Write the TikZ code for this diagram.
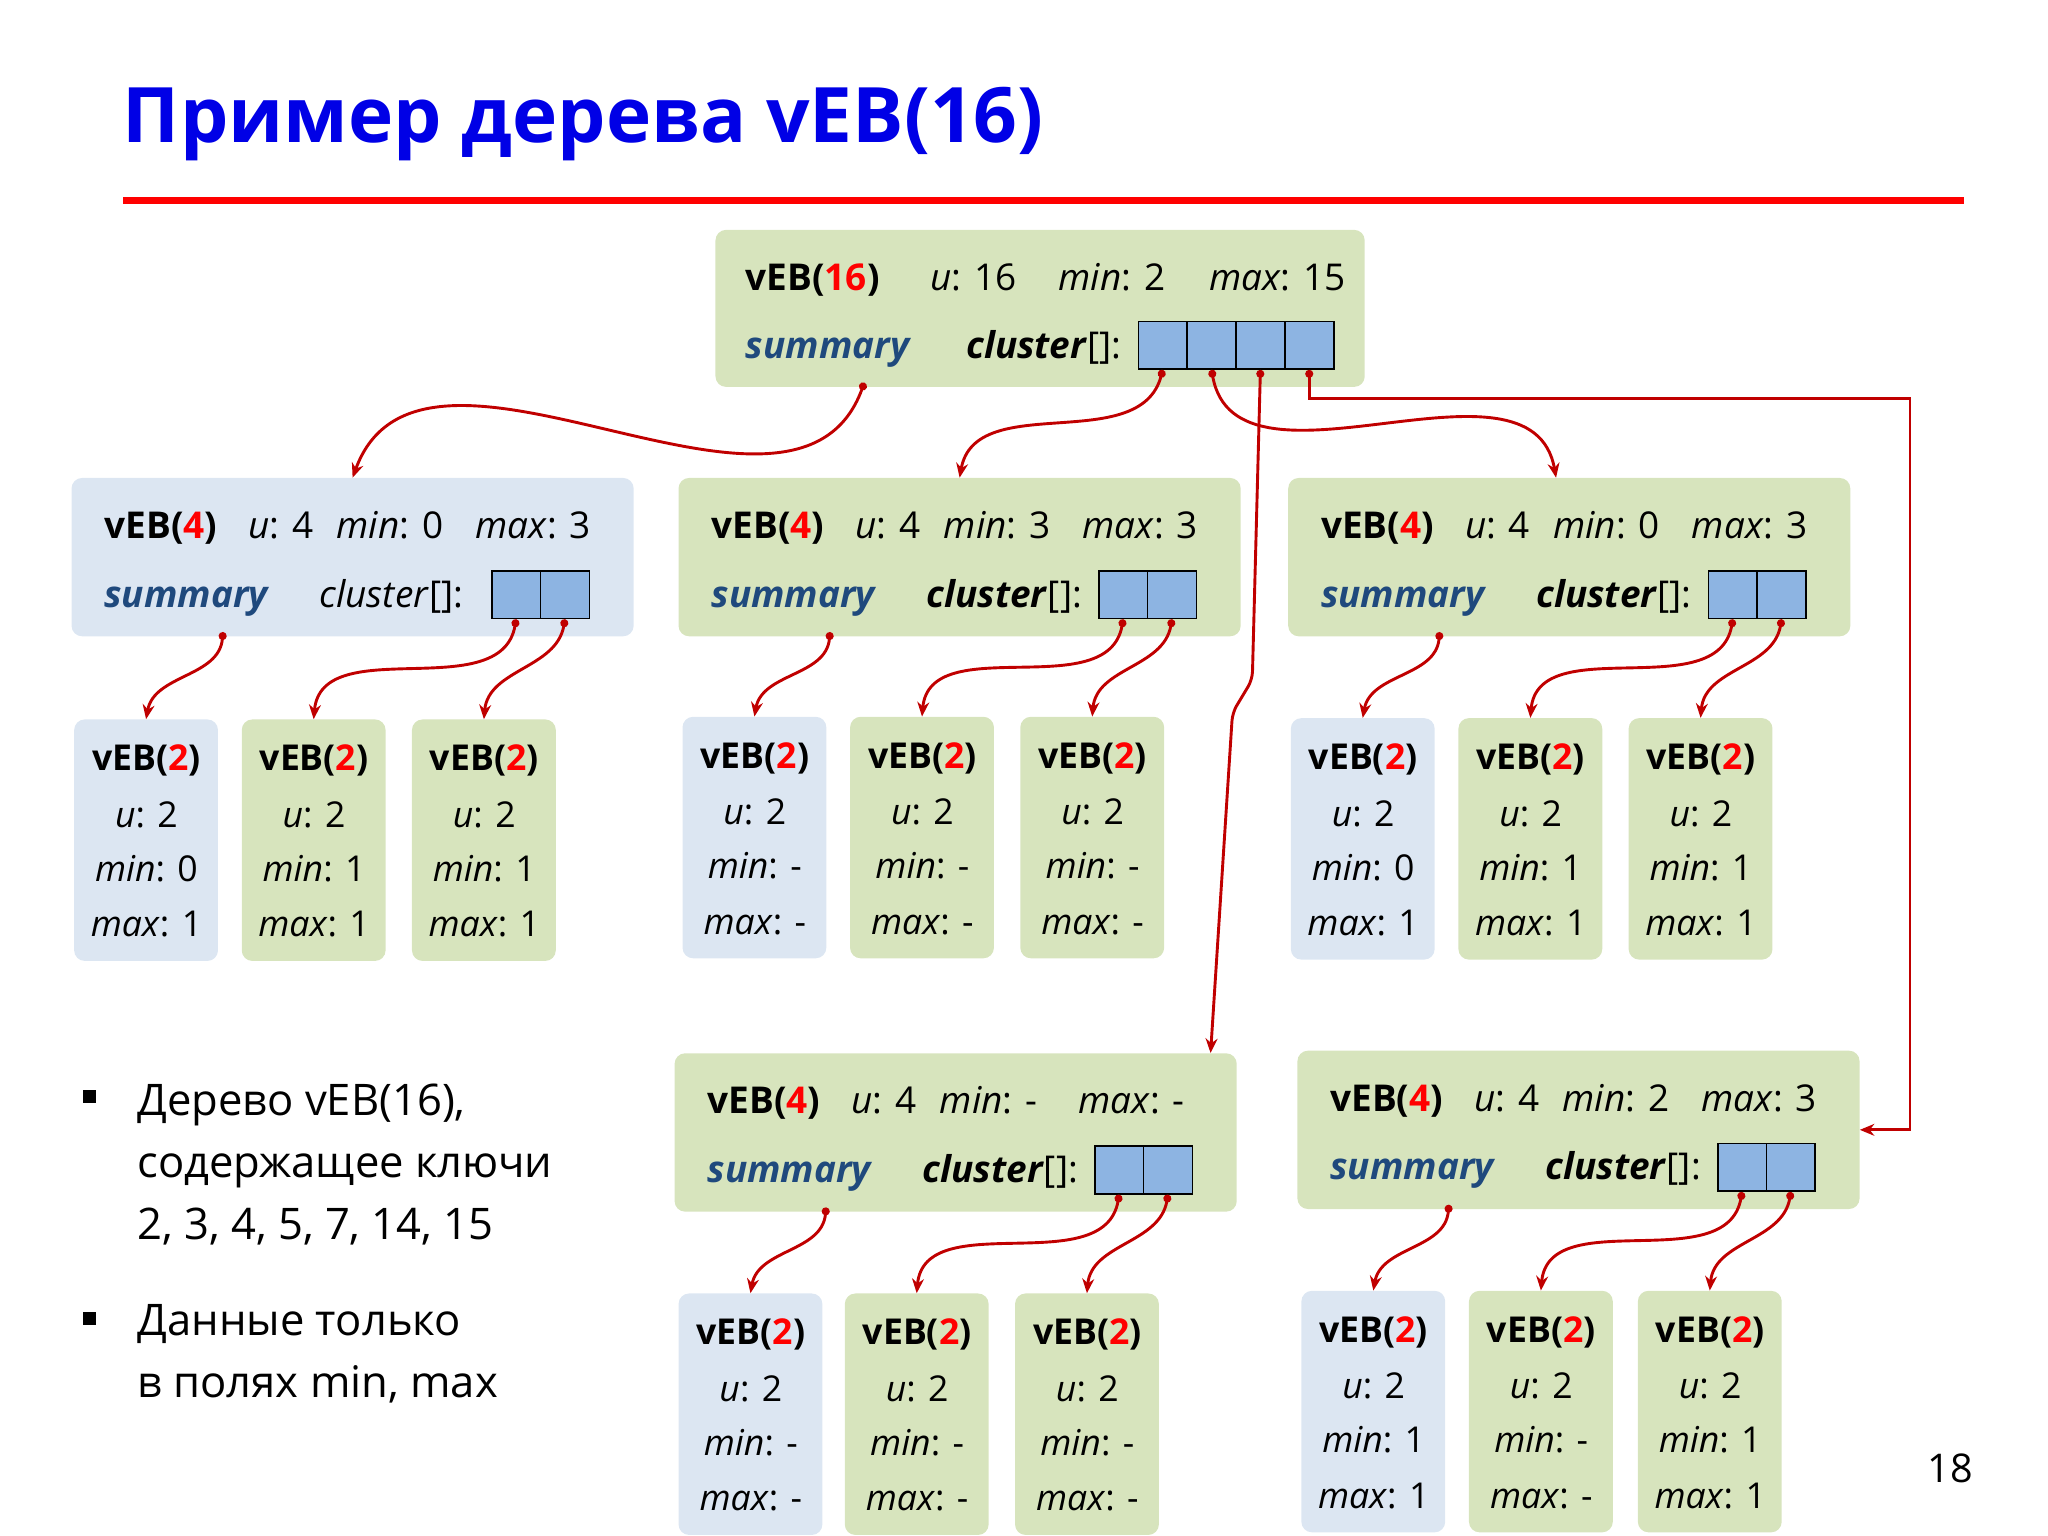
\documentclass[tikz,border=0pt]{standalone}
\usepackage{fontspec}
\setmainfont{Open Sans}
\usetikzlibrary{arrows.meta,calc}
\definecolor{boxgreen}{RGB}{215,228,189}
\definecolor{boxblue}{RGB}{220,230,242}
\definecolor{cellblue}{RGB}{141,180,226}
\definecolor{sumblue}{RGB}{31,73,125}
\definecolor{arrred}{RGB}{192,0,0}
\definecolor{titleblue}{RGB}{0,0,230}
\tikzset{
  box/.style={rounded corners=8, inner sep=0, anchor=north west},
  tx/.style={inner sep=0, anchor=base west, font=\fontsize{28}{34}\selectfont},
  ltx/.style={inner sep=0, anchor=base, font=\fontsize{27}{32}\selectfont},
  sumtx/.style={tx, text=sumblue, font=\fontsize{28}{34}\selectfont\bfseries\itshape},
  cell/.style={draw=black, line width=1.3, fill=cellblue, minimum width=37, minimum height=36, anchor=north west, inner sep=0},
  conn/.style={draw=arrred, line width=2.2, {Circle[length=6,width=6]}-{Stealth[length=11,width=9]}},
  btx/.style={inner sep=0, anchor=base west, font=\fontsize{33}{40}\selectfont},
}
\newcommand\LvlBox[7]{%
\begin{scope}[shift={(#2,#3)}]
\node[box,fill=#4,minimum width=426,minimum height=120] (#1) at (0,0) {};
\node[tx] at (25,46) {\bfseries vEB(\textcolor{red}{4})};
\node[tx] at (134,46) {\textit{u}: 4};
\node[tx] at (201,46) {\textit{min}: #5};
\node[tx] at (306,46) {\textit{max}: #6};
\node[sumtx] at (25,98) {summary};
\node[tx] at (188,98) {#7[]:};
\node[cell] (#1c1) at (318,70) {};
\node[cell] (#1c2) at (355,70) {};
\coordinate (#1sd) at (115,117);
\end{scope}}
\newcommand\LeafBox[6]{%
\begin{scope}[shift={(#2,#3)}]
\node[box,fill=#4,minimum width=109,minimum height=183] (#1) at (0,0) {};
\node[ltx] at (55,39) {\bfseries vEB(\textcolor{red}{2})};
\node[ltx] at (55,82) {\textit{u}: 2};
\node[ltx] at (55,123) {\textit{min}: #5};
\node[ltx] at (55,165) {\textit{max}: #6};
\end{scope}}
\newcommand\Kids[4]{%
\draw[conn] (#1sd) to[out=-95,in=80] (#2.north);
\draw[conn] (#1c1.south) to[out=-100,in=85] (#3.north);
\draw[conn] (#1c2.south) to[out=-100,in=85] (#4.north);}
\begin{document}
\begin{tikzpicture}[x=1pt,y=-1pt]
\useasboundingbox (0,0) rectangle (1552,1164);
\node[inner sep=0,anchor=base west,text=titleblue,font=\fontsize{58}{70}\selectfont\bfseries] (title) at (93,108) {Пример дерева vEB(16)};
\fill[red] (93,149.5) rectangle (1488,154.5);
% root
\node[box,fill=boxgreen,minimum width=492,minimum height=119] (root) at (542,174) {};
\node[tx] at (565,220) {\bfseries vEB(\textcolor{red}{16})};
\node[tx] at (705,220) {\textit{u}: 16};
\node[tx] at (802,220) {\textit{min}: 2};
\node[tx] at (916,220) {\textit{max}: 15};
\node[sumtx] at (565,272) {summary};
\node[tx] at (732,272) {\textbf{\textit{cluster}}[]:};
\foreach \i/\x in {1/862,2/899,3/936,4/973} \node[cell] (R\i) at (\x,243) {};
\coordinate (rsd) at (655,290);
% level boxes
\LvlBox{A}{54}{362}{boxblue}{0}{3}{\textit{cluster}}
\LvlBox{B}{514}{362}{boxgreen}{3}{3}{\textbf{\textit{cluster}}}
\LvlBox{C}{976}{362}{boxgreen}{0}{3}{\textbf{\textit{cluster}}}
\LvlBox{D}{511}{798}{boxgreen}{-}{-}{\textbf{\textit{cluster}}}
\LvlBox{E}{983}{796}{boxgreen}{2}{3}{\textbf{\textit{cluster}}}
% leaves
\LeafBox{A1}{56}{545}{boxblue}{0}{1}
\LeafBox{A2}{183}{545}{boxgreen}{1}{1}
\LeafBox{A3}{312}{545}{boxgreen}{1}{1}
\LeafBox{B1}{517}{543}{boxblue}{-}{-}
\LeafBox{B2}{644}{543}{boxgreen}{-}{-}
\LeafBox{B3}{773}{543}{boxgreen}{-}{-}
\LeafBox{C1}{978}{544}{boxblue}{0}{1}
\LeafBox{C2}{1105}{544}{boxgreen}{1}{1}
\LeafBox{C3}{1234}{544}{boxgreen}{1}{1}
\LeafBox{D1}{514}{980}{boxblue}{-}{-}
\LeafBox{D2}{640}{980}{boxgreen}{-}{-}
\LeafBox{D3}{769}{980}{boxgreen}{-}{-}
\LeafBox{E1}{986}{978}{boxblue}{1}{1}
\LeafBox{E2}{1113}{978}{boxgreen}{-}{-}
\LeafBox{E3}{1241}{978}{boxgreen}{1}{1}
% root connectors
\draw[conn] (rsd) to[out=-110,in=70] (A.north);
\draw[conn] (R1.south) to[out=-105,in=80] (B.north);
\draw[conn] (R2.south) to[out=-80,in=100] ($(C.north)+(-10,0)$);
\draw[conn,rounded corners=6] (R3.south) -- (949,515) -- (934,540) -- ($(D.north east)+(-20,0)$);
\draw[conn] (R4.south) -- ++(0,22) -| ($(E.east)+(38,0)$) -- (E.east);
\Kids{A}{A1}{A2}{A3}
\Kids{B}{B1}{B2}{B3}
\Kids{C}{C1}{C2}{C3}
\Kids{D}{D1}{D2}{D3}
\Kids{E}{E1}{E2}{E3}
% bullets
\node[fill=black,minimum size=10,inner sep=0] (b1) at (68,831) {};
\node[fill=black,minimum size=10,inner sep=0] (b2) at (68,999) {};
\node[btx] at (104,845) {Дерево vEB(16),};
\node[btx] at (104,892) {содержащее ключи};
\node[btx] at (104,939) {2, 3, 4, 5, 7, 14, 15};
\node[btx] at (104,1012) {Данные только};
\node[btx] at (104,1059) {в полях min, max};
\node[inner sep=0,font=\fontsize{30}{36}\selectfont] (pg) at (1478,1113) {18};
\end{tikzpicture}
\end{document}
